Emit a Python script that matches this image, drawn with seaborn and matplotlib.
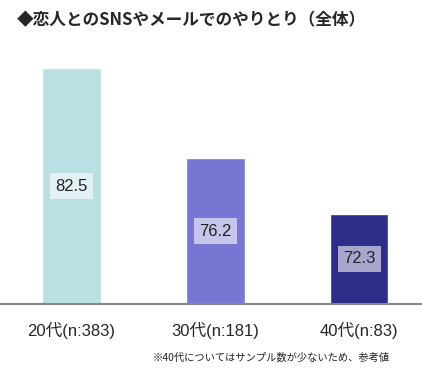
import matplotlib
matplotlib.use("Agg")
import matplotlib.pyplot as plt
import seaborn as sns
import pandas as pd

categories = ["20代(n:383)", "30代(n:181)", "40代(n:83)"]
values = [82.5, 76.2, 72.3]
colors = ["#bbe0e3", "#7876d2", "#2e2d8a"]
title = "◆恋人とのSNSやメールでのやりとり（全体）"
note = "※40代についてはサンプル数が少ないため、参考値"

sns.set_style("white")
plt.rcParams['font.family'] = ['Liberation Sans', 'Noto Sans CJK JP', 'DejaVu Sans']

df = pd.DataFrame({"cat": categories, "val": values})

fig = plt.figure(figsize=(4.22, 3.80), dpi=100)
ax = fig.add_axes([0, 76 / 380, 1, 264 / 380])

sns.barplot(data=df, x="cat", y="val", hue="cat", palette=colors,
            width=0.407, legend=False, ax=ax, saturation=1)

ax.set_xlim(-0.497, 2.438)
ax.set_ylim(66, 84.46)
ax.set_xlabel("")
ax.set_ylabel("")
ax.set_yticks([])
ax.tick_params(axis="x", length=0, pad=13, labelsize=12)
for s in ["top", "left", "right"]:
    ax.spines[s].set_visible(False)
ax.spines["bottom"].set_color("#888888")
ax.spines["bottom"].set_linewidth(1.5)

for i, v in enumerate(values):
    ax.text(i, (66 + v) / 2, f"{v}", ha="center", va="center", fontsize=12,
            color="#222222",
            bbox=dict(boxstyle="square,pad=0.32", fc="white", ec="none", alpha=0.58))

fig.text(17 / 422, 1 - 20 / 380, title, ha="left", va="center", fontsize=12,
         fontweight="bold", family=['Noto Sans CJK JP', 'DejaVu Sans'])
fig.text(153 / 422, 1 - 358 / 380, note, ha="left", va="center", fontsize=7.4,
         family=['Noto Sans CJK JP', 'DejaVu Sans'], color="#222222")

fig.savefig("out.png", dpi=100)
